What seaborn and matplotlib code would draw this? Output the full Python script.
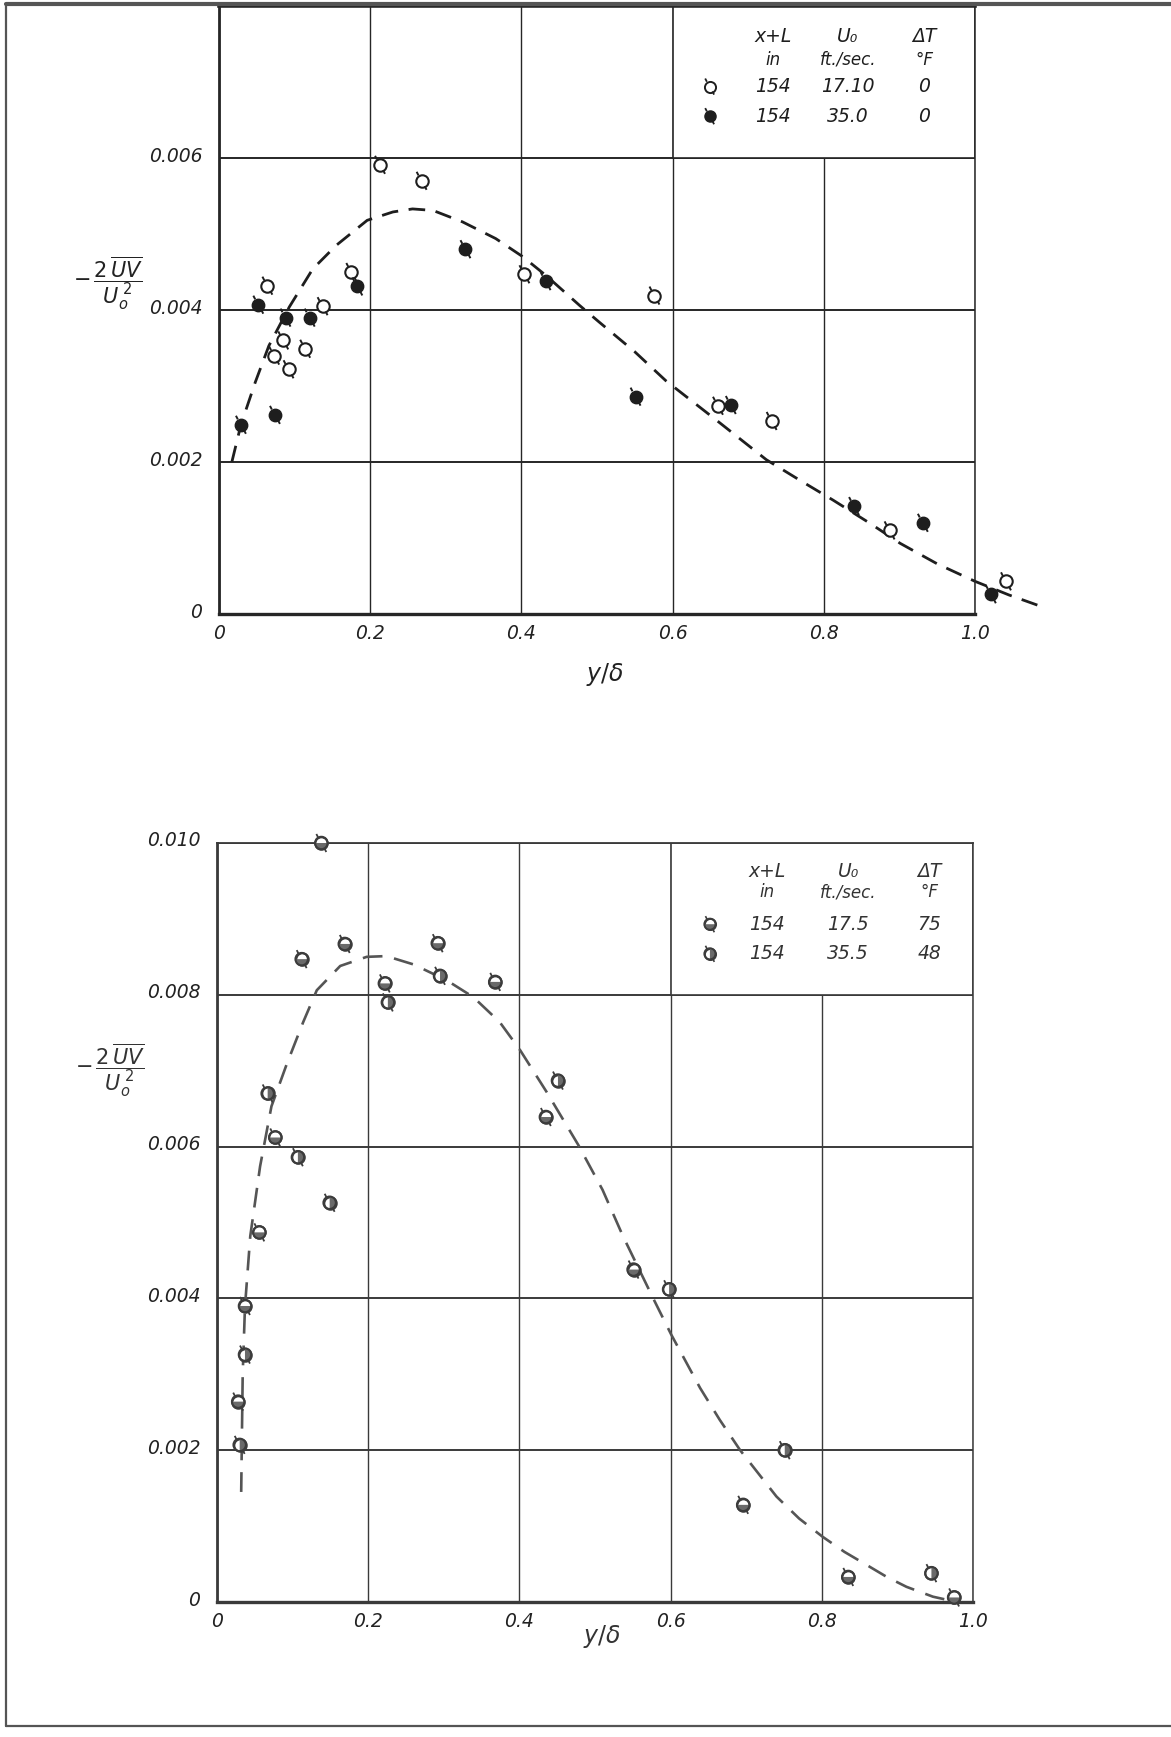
import numpy as np
import pandas as pd
import matplotlib
matplotlib.use("Agg")
import matplotlib.pyplot as plt
import matplotlib.transforms as mtrans
import seaborn as sns
from matplotlib.path import Path
from matplotlib.markers import MarkerStyle
from matplotlib.patches import Rectangle
from matplotlib.lines import Line2D

# ---------------- data ----------------
# Top panel: x+L = 154 in, dT = 0 F
top_open_x = [0.213, 0.268, 0.404, 0.175, 0.064, 0.137, 0.085, 0.114, 0.073, 0.092,
              0.576, 0.660, 0.731, 0.887, 1.041]
top_open_y = [0.00591, 0.00570, 0.00447, 0.00450, 0.00432, 0.00405, 0.00360, 0.00349,
              0.00340, 0.00322, 0.00419, 0.00274, 0.00254, 0.00110, 0.00043]
top_fill_x = [0.326, 0.432, 0.183, 0.052, 0.088, 0.120, 0.074, 0.029, 0.551, 0.677,
              0.840, 0.931, 1.021]
top_fill_y = [0.00480, 0.00438, 0.00431, 0.00407, 0.00390, 0.00390, 0.00262, 0.00249,
              0.00286, 0.00275, 0.00142, 0.00120, 0.00026]
top_curve_x = [0.017, 0.029, 0.048, 0.066, 0.093, 0.124, 0.155, 0.196, 0.230, 0.256,
               0.283, 0.322, 0.366, 0.402, 0.433, 0.477, 0.503, 0.550, 0.591, 0.658,
               0.724, 0.770, 0.812, 0.860, 0.901, 0.950, 1.000, 1.045, 1.093]
top_curve_y = [0.00200, 0.00249, 0.00305, 0.00353, 0.00404, 0.00454, 0.00485, 0.00518,
               0.00529, 0.00533, 0.00531, 0.00516, 0.00494, 0.00470, 0.00445, 0.00406,
               0.00384, 0.00345, 0.00307, 0.00255, 0.00203, 0.00175, 0.00150, 0.00120,
               0.00093, 0.00066, 0.00043, 0.00025, 0.00008]

# Bottom panel: A = 17.5 ft/sec, 75 F ; B = 35.5 ft/sec, 48 F
bot_a_x = [0.138, 0.112, 0.169, 0.292, 0.222, 0.368, 0.435, 0.077, 0.056, 0.037,
           0.028, 0.551, 0.696, 0.835, 0.975]
bot_a_y = [0.01000, 0.00847, 0.00867, 0.00868, 0.00815, 0.00817, 0.00639, 0.00612,
           0.00487, 0.00390, 0.00264, 0.00438, 0.00128, 0.00033, 0.00006]
bot_b_x = [0.295, 0.226, 0.451, 0.067, 0.107, 0.149, 0.037, 0.030, 0.598, 0.751, 0.945]
bot_b_y = [0.00825, 0.00790, 0.00687, 0.00670, 0.00586, 0.00526, 0.00326, 0.00207,
           0.00412, 0.00200, 0.00038]
bot_curve_x = [0.032, 0.034, 0.037, 0.044, 0.057, 0.072, 0.092, 0.114, 0.132, 0.163,
               0.198, 0.224, 0.260, 0.304, 0.339, 0.374, 0.401, 0.436, 0.478, 0.510,
               0.537, 0.577, 0.601, 0.639, 0.665, 0.692, 0.740, 0.770, 0.801, 0.830,
               0.859, 0.886, 0.912, 0.947, 0.965]
bot_curve_y = [0.00145, 0.00300, 0.00389, 0.00482, 0.00574, 0.00653, 0.00708, 0.00764,
               0.00806, 0.00838, 0.00850, 0.00851, 0.00840, 0.00819, 0.00797, 0.00764,
               0.00727, 0.00672, 0.00602, 0.00543, 0.00482, 0.00400, 0.00352, 0.00282,
               0.00240, 0.00200, 0.00139, 0.00110, 0.00086, 0.00066, 0.00049, 0.00033,
               0.00020, 0.00007, 0.00003]

x_ticks = [0, 0.2, 0.4, 0.6, 0.8, 1.0]
x_tick_labels = ["0", "0.2", "0.4", "0.6", "0.8", "1.0"]
top_y_ticks = [0, 0.002, 0.004, 0.006, 0.008]
top_y_labels = ["0", "0.002", "0.004", "0.006", ""]
bot_y_ticks = [0, 0.002, 0.004, 0.006, 0.008, 0.010]
bot_y_labels = ["0", "0.002", "0.004", "0.006", "0.008", "0.010"]

top_legend_rows = [["154", "17.10", "0"], ["154", "35.0", "0"]]
bot_legend_rows = [["154", "17.5", "75"], ["154", "35.5", "48"]]
legend_head1 = ["x+L", "U₀", "ΔT"]
legend_head2 = ["in", "ft./sec.", "°F"]

# ---------------- style ----------------
sns.set_theme(style="white")
plt.rcParams['font.family'] = ['DejaVu Sans']
plt.rcParams['mathtext.fontset'] = 'dejavusans'
plt.rcParams['mathtext.default'] = 'it'

W, H = 1171, 1737
fig = plt.figure(figsize=(W / 100, H / 100), dpi=100)
fig.patch.set_facecolor("white")

ax1 = fig.add_axes([219 / W, 1 - 614 / H, 756 / W, 608 / H])
ax2 = fig.add_axes([217 / W, 1 - 1602 / H, 756 / W, 759 / H])

tick_path = Path([(-0.5, 0.87), (-0.8, 1.45), (0.5, -0.87), (0.8, -1.45)],
                 [Path.MOVETO, Path.LINETO, Path.MOVETO, Path.LINETO])
S = 80          # circle marker area (pt^2)
S_T = S * 1.45 ** 2

def style_axes(ax, ymax, yticks, ylabels, gcol, top_lw):
    ax.set_xlim(0, 1.0)
    ax.set_ylim(0, ymax)
    ax.set_axisbelow(True)
    ax.set_xticks(x_ticks)
    ax.set_xticklabels(x_tick_labels)
    ax.set_yticks(yticks)
    ax.set_yticklabels(ylabels)
    ax.grid(axis='y', color=gcol, lw=1.4)
    ax.grid(axis='x', color=gcol, lw=1.0)
    ax.tick_params(length=0, labelsize=13.5, colors="#222222")
    ax.tick_params(axis='x', pad=7)
    ax.tick_params(axis='y', pad=12)
    for lab in ax.get_xticklabels() + ax.get_yticklabels():
        lab.set_fontstyle('italic')
    off = mtrans.ScaledTranslation(0, 4 / 100, fig.dpi_scale_trans)
    for lab in ax.get_yticklabels():
        lab.set_transform(lab.get_transform() + off)
    ax.spines['left'].set_linewidth(2.0)
    ax.spines['bottom'].set_linewidth(2.4)
    ax.spines['right'].set_linewidth(1.1)
    ax.spines['top'].set_linewidth(top_lw)
    for sp in ax.spines.values():
        sp.set_color(gcol)
    ax.set_xlabel("")
    ax.set_ylabel("")

style_axes(ax1, 0.008, top_y_ticks, top_y_labels, "#262626", 2.6)
style_axes(ax2, 0.010, bot_y_ticks, bot_y_labels, "#3a3a3a", 1.3)

# legend boxes (hide the 0.8 grid line inside)
ax1.add_patch(Rectangle((0.6, 0.006), 0.4, 0.002, facecolor="white",
                        edgecolor="#262626", lw=1.2, zorder=1))
ax2.add_patch(Rectangle((0.6, 0.008), 0.4, 0.002, facecolor="white",
                        edgecolor="#3a3a3a", lw=1.2, zorder=1))

# ---------------- top panel ----------------
sns.lineplot(x=top_curve_x, y=top_curve_y, ax=ax1, estimator=None, sort=False,
             color="#1e1e1e", lw=2.0, linestyle=(0, (6, 3.8)), clip_on=False,
             legend=False, zorder=2)
sns.scatterplot(x=top_open_x, y=top_open_y, ax=ax1, marker='o', s=S, color="white",
                edgecolor="#1e1e1e", linewidth=1.5, clip_on=False, zorder=3, legend=False)
sns.scatterplot(x=top_fill_x, y=top_fill_y, ax=ax1, marker='o', s=S, color="#1e1e1e",
                edgecolor="#1e1e1e", linewidth=1.0, clip_on=False, zorder=3, legend=False)
sns.scatterplot(x=top_open_x + top_fill_x, y=top_open_y + top_fill_y, ax=ax1,
                marker=tick_path, s=S_T, facecolor="none", edgecolor="#1e1e1e",
                linewidth=1.4, clip_on=False, zorder=3, legend=False)

# ---------------- bottom panel ----------------
gray_edge = "#3c3c3c"
gray_fill = "#6a6a6a"
sns.lineplot(x=bot_curve_x, y=bot_curve_y, ax=ax2, estimator=None, sort=False,
             color="#555555", lw=1.9, linestyle=(0, (7.5, 4.5)), clip_on=False,
             legend=False, zorder=2)
allx = bot_a_x + bot_b_x
ally = bot_a_y + bot_b_y
sns.scatterplot(x=allx, y=ally, ax=ax2, marker='o', s=S, color="white",
                edgecolor=gray_edge, linewidth=1.5, clip_on=False, zorder=3, legend=False)
sns.scatterplot(x=bot_a_x, y=bot_a_y, ax=ax2, marker=MarkerStyle('o', fillstyle='bottom'),
                s=S, color=gray_fill, edgecolor="none", linewidth=0, clip_on=False,
                zorder=3, legend=False)
sns.scatterplot(x=bot_b_x, y=bot_b_y, ax=ax2, marker=MarkerStyle('o', fillstyle='right'),
                s=S, color=gray_fill, edgecolor="none", linewidth=0, clip_on=False,
                zorder=3, legend=False)
sns.scatterplot(x=allx, y=ally, ax=ax2, marker='o', s=S, facecolor="none",
                edgecolor=gray_edge, linewidth=1.5, clip_on=False, zorder=3, legend=False)
sns.scatterplot(x=allx, y=ally, ax=ax2, marker=tick_path, s=S_T, facecolor="none",
                edgecolor=gray_edge, linewidth=1.3, clip_on=False, zorder=3, legend=False)

# ---------------- legend tables ----------------
def legend_table(ax, col_x, y_h1, y_h2, row_y, rows, color):
    tk = dict(fontsize=13.5, style='italic', color=color, ha='center', va='center', zorder=4)
    for cx, t in zip(col_x, legend_head1):
        ax.text(cx, y_h1, t, **tk)
    for cx, t in zip(col_x, legend_head2):
        ax.text(cx, y_h2, t, **{**tk, 'fontsize': 12})
    for ry, row in zip(row_y, rows):
        for cx, t in zip(col_x, row):
            ax.text(cx, ry, t, **tk)

legend_table(ax1, [0.733, 0.832, 0.933], 0.00760, 0.00729, [0.00694, 0.00655],
             top_legend_rows, "#1e1e1e")
legend_table(ax2, [0.728, 0.835, 0.942], 0.00963, 0.00935, [0.00893, 0.00854],
             bot_legend_rows, "#333333")

# legend glyphs
ax1.scatter([0.649], [0.00694], marker='o', s=S * 0.8, color="white", edgecolor="#1e1e1e", lw=1.4, zorder=4)
ax1.scatter([0.649], [0.00655], marker='o', s=S * 0.8, color="#1e1e1e", edgecolor="#1e1e1e", zorder=4)
ax1.scatter([0.649, 0.649], [0.00694, 0.00655], marker=tick_path, s=S_T * 0.8,
            facecolor="none", edgecolor="#1e1e1e", lw=1.3, zorder=4)
for yy, fs in [(0.00893, 'bottom'), (0.00854, 'right')]:
    ax2.scatter([0.652], [yy], marker='o', s=S * 0.8, color="white", edgecolor=gray_edge, lw=1.4, zorder=4)
    ax2.scatter([0.652], [yy], marker=MarkerStyle('o', fillstyle=fs), s=S * 0.8, color=gray_fill,
                edgecolor="none", zorder=4)
    ax2.scatter([0.652], [yy], marker='o', s=S * 0.8, facecolor="none", edgecolor=gray_edge, lw=1.4, zorder=4)
    ax2.scatter([0.652], [yy], marker=tick_path, s=S_T * 0.8, facecolor="none",
                edgecolor=gray_edge, lw=1.2, zorder=4)

# ---------------- axis titles ----------------
ylab = r"$-\,\dfrac{2\,\overline{UV}}{U_o^{\,2}}$"
fig.text(108 / W, 1 - 283 / H, ylab, fontsize=15, ha='center', va='center', color="#222222")
fig.text(110 / W, 1 - 1070 / H, ylab, fontsize=15, ha='center', va='center', color="#333333")
fig.text(605 / W, 1 - 674 / H, r"$y/\delta$", fontsize=17, ha='center', va='center', color="#222222")
fig.text(602 / W, 1 - 1636 / H, r"$y/\delta$", fontsize=17, ha='center', va='center', color="#333333")

# ---------------- page frame ----------------
frame = dict(transform=fig.transFigure, color="#555555")
fig.add_artist(Line2D([6 / W, 6 / W], [1 - 4 / H, 1 - 1726 / H], lw=1.6, **frame))
fig.add_artist(Line2D([6 / W, 1.0], [1 - 4 / H, 1 - 4 / H], lw=3.0, **frame))
fig.add_artist(Line2D([6 / W, 1.0], [1 - 1726 / H, 1 - 1726 / H], lw=1.6, **frame))

fig.savefig("out.png", dpi=100, facecolor="white")
